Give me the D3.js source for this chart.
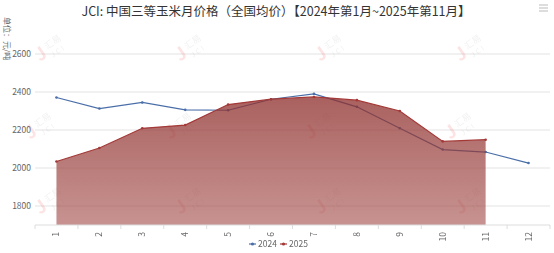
<!DOCTYPE html>
<html>
<head>
<meta charset="utf-8">
<script src="https://cdn.jsdelivr.net/npm/d3@7"></script>
<style>
  html, body { margin: 0; padding: 0; background: #fff; }
  svg { display: block; font-family: "Noto Sans CJK SC", "Noto Sans", sans-serif; }
</style>
</head>
<body>
<div id="chart"></div>
<script>
// 数据
const months = ["1", "2", "3", "4", "5", "6", "7", "8", "9", "10", "11", "12"];
const price2024 = [2371, 2313, 2345, 2306, 2304, 2362, 2390, 2322, 2209, 2097, 2084, 2026];
const price2025 = [2034, 2105, 2209, 2226, 2334, 2362, 2374, 2357, 2300, 2140, 2149];
const yTicks = [1800, 2000, 2200, 2400, 2600];
const seriesNames = ["2024", "2025"];

const W = 554, H = 253;
const margin = { top: 54, right: 4, bottom: 28, left: 35 };

const svg = d3.select("#chart").append("svg")
  .attr("width", W)
  .attr("height", H);

const x = d3.scaleBand()
  .domain(months)
  .range([margin.left, W - margin.right]);

const y = d3.scaleLinear()
  .domain([1700, 2600])
  .range([H - margin.bottom, margin.top]);

const cx = d => x(d) + x.bandwidth() / 2;

// 标题
svg.append("text")
  .attr("x", 276)
  .attr("y", 16)
  .attr("text-anchor", "middle")
  .attr("font-size", 12.5)
  .attr("fill", "#333")
  .text("JCI: 中国三等玉米月价格（全国均价）【2024年第1月~2025年第11月】");

// 工具箱图标
[5, 8, 11].forEach(yy => {
  svg.append("line")
    .attr("x1", 539).attr("x2", 548)
    .attr("y1", yy).attr("y2", yy)
    .attr("stroke", "#bbb").attr("stroke-width", 1);
});

// 单位
svg.append("text")
  .attr("transform", "translate(4,17) rotate(90)")
  .attr("font-size", 8)
  .attr("fill", "#666")
  .text("单位：元/吨");

// 网格线 + y轴标签
const gy = svg.append("g");
gy.selectAll("line")
  .data(yTicks)
  .enter().append("line")
  .attr("x1", margin.left).attr("x2", W - margin.right)
  .attr("y1", d => y(d)).attr("y2", d => y(d))
  .attr("stroke", "#e3e3e3").attr("stroke-width", 1);
gy.selectAll("text")
  .data(yTicks)
  .enter().append("text")
  .attr("x", margin.left - 4)
  .attr("y", d => y(d))
  .attr("dy", "0.35em")
  .attr("text-anchor", "end")
  .attr("font-size", 8.5)
  .attr("fill", "#666")
  .text(d => d);

// 水印
const wm = svg.append("g").attr("opacity", 0.14);
const wmPos = [];
[62, 140, 215].forEach((yy, r) => {
  [40, 180, 320, 460].forEach(xx => wmPos.push([xx + (r === 1 ? -10 : 0), yy]));
});
wmPos.forEach(([xx, yy]) => {
  const g = wm.append("g").attr("transform", `translate(${xx},${yy}) rotate(-35)`);
  g.append("text").attr("x", 0).attr("y", 0)
    .attr("font-size", 18).attr("font-weight", "bold").attr("fill", "#e33")
    .text("J");
  g.append("text").attr("x", 13).attr("y", -6)
    .attr("font-size", 9).attr("fill", "#999").text("汇易");
  g.append("text").attr("x", 13).attr("y", 4)
    .attr("font-size", 7).attr("fill", "#999").attr("letter-spacing", 2).text("JCI");
});

// 2024 折线
const line = d3.line()
  .x((d, i) => cx(months[i]))
  .y(d => y(d));

svg.append("path")
  .datum(price2024)
  .attr("fill", "none")
  .attr("stroke", "#4a6ea8")
  .attr("stroke-width", 1.2)
  .attr("d", line);
svg.append("g").selectAll("circle")
  .data(price2024)
  .enter().append("circle")
  .attr("cx", (d, i) => cx(months[i]))
  .attr("cy", d => y(d))
  .attr("r", 1.3)
  .attr("fill", "#4a6ea8");

// 2025 面积
const defs = svg.append("defs");
const grad = defs.append("linearGradient")
  .attr("id", "areaGrad")
  .attr("x1", 0).attr("y1", 0).attr("x2", 0).attr("y2", 1);
grad.append("stop").attr("offset", "0%").attr("stop-color", "#8e2f2c").attr("stop-opacity", 0.76);
grad.append("stop").attr("offset", "100%").attr("stop-color", "#a14a46").attr("stop-opacity", 0.6);

const area = d3.area()
  .x((d, i) => cx(months[i]))
  .y0(y(1700))
  .y1(d => y(d));

svg.append("path")
  .datum(price2025)
  .attr("fill", "url(#areaGrad)")
  .attr("d", area);
svg.append("path")
  .datum(price2025)
  .attr("fill", "none")
  .attr("stroke", "#a33a38")
  .attr("stroke-width", 1.2)
  .attr("d", line);
svg.append("g").selectAll("circle")
  .data(price2025)
  .enter().append("circle")
  .attr("cx", (d, i) => cx(months[i]))
  .attr("cy", d => y(d))
  .attr("r", 1.3)
  .attr("fill", "#a33a38");

// x轴
const gx = svg.append("g")
  .attr("transform", `translate(0,${H - margin.bottom})`);
gx.append("line")
  .attr("x1", margin.left).attr("x2", W - margin.right)
  .attr("stroke", "#ddd");
const bounds = months.map(m => x(m)).concat([x(months[months.length - 1]) + x.bandwidth()]);
gx.selectAll("line.tick")
  .data(bounds)
  .enter().append("line")
  .attr("class", "tick")
  .attr("x1", d => d).attr("x2", d => d)
  .attr("y1", 0).attr("y2", 4)
  .attr("stroke", "#ddd");
gx.selectAll("text")
  .data(months)
  .enter().append("text")
  .attr("transform", d => `translate(${cx(d)},7) rotate(-90)`)
  .attr("dy", "0.35em")
  .attr("text-anchor", "end")
  .attr("font-size", 8.5)
  .attr("fill", "#666")
  .text(d => d);

// 图例
const legendColors = ["#4a6ea8", "#a33a38"];
const legend = svg.append("g").attr("transform", "translate(249,244)");
seriesNames.forEach((name, i) => {
  const g = legend.append("g").attr("transform", `translate(${i * 31},0)`);
  g.append("line").attr("x1", 0).attr("x2", 7).attr("y1", 0).attr("y2", 0)
    .attr("stroke", legendColors[i]).attr("stroke-width", 1.2);
  g.append("circle").attr("cx", 3.5).attr("cy", 0).attr("r", 1.6).attr("fill", legendColors[i]);
  g.append("text").attr("x", 9).attr("y", 0).attr("dy", "0.35em")
    .attr("font-size", 8.5).attr("fill", "#666").text(name);
});
</script>
</body>
</html>
